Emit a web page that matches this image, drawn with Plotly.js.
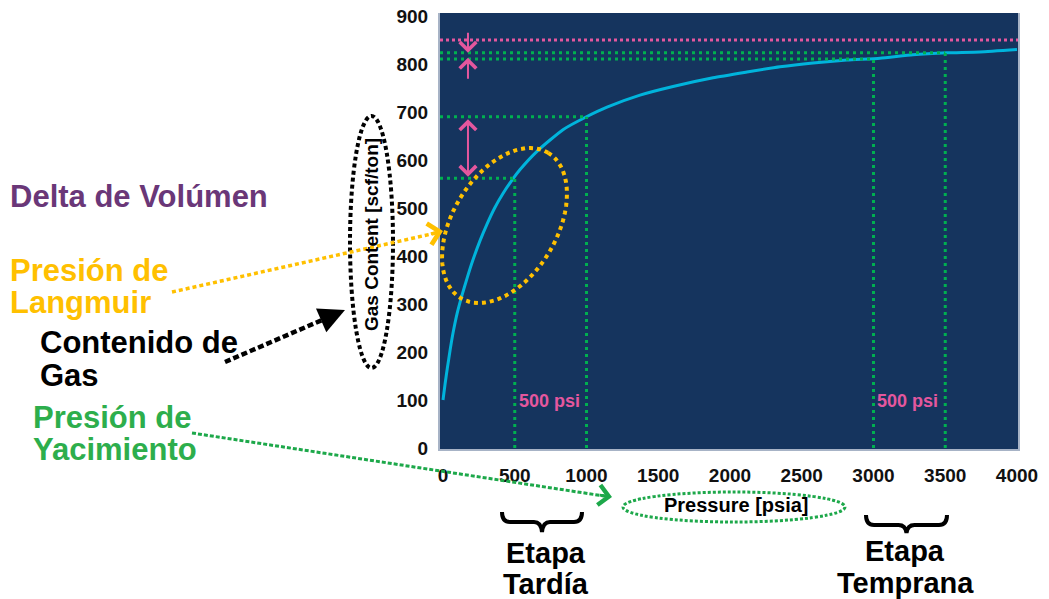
<!DOCTYPE html>
<html>
<head>
<meta charset="utf-8">
<script src="https://cdn.plot.ly/plotly-3.0.1.min.js"></script>
<style>
  html, body { margin: 0; padding: 0; background: #ffffff; }
  #chart { width: 1049px; height: 599px; }
</style>
</head>
<body>
<div id="chart"></div>
<script>
// Langmuir isotherm: gas content vs. pressure
const pressure   = [0, 15, 30, 50, 70, 98, 132, 170, 209, 258, 306, 360, 418, 481, 537, 655, 836, 1000, 1143, 1373, 1603, 1882, 2118, 2348, 2578, 2815, 3045, 3275, 3512, 3742, 4000];
const gasContent = [100, 135, 166, 205, 240, 280, 318, 356, 392, 432, 466, 500, 530, 558, 580, 618, 663, 690, 710, 735, 753, 771, 783, 794, 802, 808, 812, 819, 823, 825, 830];

// Production stages: pressures and the gas content read on the curve
const stagePressures = [500, 1000, 3000, 3500];
const stageContents  = [562, 690, 810, 823];
const langmuirVolume = 850;

// Pressure drop labels
const dropLabels = ['500 psi', '500 psi'];
const dropLabelX = [740, 3235];
const dropLabelY = 98;

const xTicks = [0, 500, 1000, 1500, 2000, 2500, 3000, 3500, 4000];
const yTicks = [0, 100, 200, 300, 400, 500, 600, 700, 800, 900];

// Layout geometry (pixels) for the plot area
const W = 1049, H = 599;
const M = { l: 440, r: 31, t: 13, b: 150 };
const plotW = W - M.l - M.r, plotH = H - M.t - M.b;
const X_RANGE = [-21, 4007];
const px = x => (x - M.l) / plotW;          // page px -> paper x
const py = y => (H - M.b - y) / plotH;       // page px -> paper y
const dataToPaperX = v => (v - X_RANGE[0]) / (X_RANGE[1] - X_RANGE[0]);

const GREEN_LINE = '#00B050';
const PINK = '#E4579E';
const YELLOW = '#FFC000';
const CYAN = '#00B4DC';
const NAVY = '#15345E';

const FONT = 'Liberation Sans, Arial, Helvetica, sans-serif';

const shapes = [];

// Langmuir volume level
shapes.push({ type: 'line', xref: 'paper', yref: 'y', x0: 0, x1: 1, y0: langmuirVolume, y1: langmuirVolume,
  line: { color: PINK, width: 3, dash: '3px,3px' } });

// Stage guide lines
stagePressures.forEach((p, i) => {
  const v = stageContents[i];
  shapes.push({ type: 'line', xref: 'paper', yref: 'y', x0: 0, x1: dataToPaperX(p), y0: v, y1: v,
    line: { color: GREEN_LINE, width: 3, dash: '3px,4px' } });
  shapes.push({ type: 'line', xref: 'x', yref: 'y', x0: p, x1: p, y0: 0, y1: v,
    line: { color: GREEN_LINE, width: 3, dash: '3px,4px' } });
});

// Tilted dotted ellipse (page px geometry)
function ellipsePath(cx, cy, a, b, deg) {
  const phi = deg * Math.PI / 180;
  const n = 72;
  let d = '';
  for (let k = 0; k <= n; k++) {
    const t = 2 * Math.PI * k / n;
    const x = cx + a * Math.cos(t) * Math.cos(phi) - b * Math.sin(t) * Math.sin(phi);
    const y = cy - (a * Math.cos(t) * Math.sin(phi) + b * Math.sin(t) * Math.cos(phi));
    d += (k === 0 ? 'M' : 'L') + px(x).toFixed(5) + ',' + py(y).toFixed(5);
  }
  return d + 'Z';
}
shapes.push({ type: 'path', xref: 'paper', yref: 'paper', path: ellipsePath(504.5, 225.5, 84.8, 52.1, 59),
  line: { color: YELLOW, width: 4, dash: '4px,4px' } });

// Ellipse around the y-axis title
shapes.push({ type: 'circle', xref: 'paper', yref: 'paper', x0: px(350), x1: px(393), y0: py(368), y1: py(116),
  line: { color: '#000000', width: 4, dash: '4px,3px' } });

// Ellipse around the x-axis title
shapes.push({ type: 'circle', xref: 'paper', yref: 'paper', x0: px(623), x1: px(845), y0: py(522), y1: py(492),
  line: { color: '#1DA84A', width: 3, dash: '3px,2px' } });

// Dotted pointer lines
function pline(x0, y0, x1, y1, color, width, dash) {
  shapes.push({ type: 'line', xref: 'paper', yref: 'paper', x0: px(x0), y0: py(y0), x1: px(x1), y1: py(y1),
    line: { color, width, dash } });
}
pline(172, 292, 436, 233, YELLOW, 3.5, '4px,3px');
pline(225, 362, 336, 314, '#000000', 4.5, '6px,3px');
pline(192, 433, 604, 496, '#1DA84A', 3, '4px,2px');

// Curly braces under the stage pressure ranges
function brace(x0, x1, yTop, yMid, yTip) {
  const xm = (x0 + x1) / 2;
  const pts = [
    ['M', x0, yTop], ['Q', x0, yMid, x0 + 8, yMid], ['L', xm - 8, yMid],
    ['Q', xm - 1, yMid, xm, yTip], ['Q', xm + 1, yMid, xm + 8, yMid],
    ['L', x1 - 8, yMid], ['Q', x1, yMid, x1, yTop]
  ];
  return pts.map(s => {
    const c = s[0];
    const nums = s.slice(1);
    const out = [];
    for (let i = 0; i < nums.length; i += 2) out.push(px(nums[i]).toFixed(5) + ',' + py(nums[i + 1]).toFixed(5));
    return c + out.join(' ');
  }).join(' ');
}
shapes.push({ type: 'path', xref: 'paper', yref: 'paper', path: brace(502, 582, 512, 522, 532),
  line: { color: '#000000', width: 4 } });
shapes.push({ type: 'path', xref: 'paper', yref: 'paper', path: brace(866, 947, 515, 525, 533),
  line: { color: '#000000', width: 4 } });

const annotations = [];

// Arrowheads for the pointer lines
function head(xTip, yTip, ux, uy, color, style, width, size) {
  annotations.push({ xref: 'paper', yref: 'paper', x: px(xTip), y: py(yTip), text: '',
    showarrow: true, ax: -ux * 14, ay: -uy * 14, arrowhead: style, arrowcolor: color,
    arrowwidth: width, arrowsize: size, standoff: 0 });
}
head(443, 231, 0.976, -0.218, YELLOW, 4, 3, 1.4);
head(345, 310, 0.917, -0.397, '#000000', 2, 4, 1.3);
head(612, 497, 0.989, 0.151, '#1DA84A', 4, 3, 1.3);

// Volume difference arrows (pink)
const arrowP = 174;
annotations.push({ xref: 'x', yref: 'y', axref: 'x', ayref: 'y', x: arrowP, y: stageContents[3], ax: arrowP, ay: 868,
  text: '', showarrow: true, arrowhead: 4, arrowsize: 1.6, arrowwidth: 2, arrowcolor: PINK, standoff: 0 });
annotations.push({ xref: 'x', yref: 'y', axref: 'x', ayref: 'y', x: arrowP, y: stageContents[2] + 3, ax: arrowP, ay: 766,
  text: '', showarrow: true, arrowhead: 4, arrowsize: 1.6, arrowwidth: 2, arrowcolor: PINK, standoff: 0 });
annotations.push({ xref: 'x', yref: 'y', axref: 'x', ayref: 'y', x: arrowP, y: stageContents[0] + 3, ax: arrowP, ay: stageContents[1] - 2,
  text: '', showarrow: true, arrowhead: 4, arrowside: 'end+start', arrowsize: 1.6, arrowwidth: 2, arrowcolor: PINK, standoff: 0 });

// Pressure drop labels
dropLabels.forEach((t, i) => {
  annotations.push({ xref: 'x', yref: 'y', x: dropLabelX[i], y: dropLabelY, text: '<b>' + t + '</b>', showarrow: false,
    font: { family: FONT, size: 18, color: PINK }, xanchor: 'center', yanchor: 'middle' });
});

// Side texts
function label(text, x, y, size, color, anchor) {
  annotations.push({ xref: 'paper', yref: 'paper', x: px(x), y: py(y), text: '<b>' + text + '</b>', showarrow: false,
    font: { family: FONT, size, color }, xanchor: anchor || 'left', yanchor: 'middle' });
}
label('Delta de Volúmen', 8, 196, 31, '#6A3778');
label('Presión de', 8, 270, 31, YELLOW);
label('Langmuir', 8, 302, 31, YELLOW);
label('Contenido de', 38, 342, 31, '#000000');
label('Gas', 38, 375, 31, '#000000');
label('Presión de', 31, 417, 31, '#2DAE4C');
label('Yacimiento', 31, 449, 31, '#2DAE4C');
label('Etapa', 546, 553, 29, '#000000', 'center');
label('Tardía', 546, 584, 29, '#000000', 'center');
label('Etapa', 905, 551, 29, '#000000', 'center');
label('Temprana', 905, 583, 29, '#000000', 'center');

// Axis titles
annotations.push({ xref: 'paper', yref: 'paper', x: px(372), y: py(235), text: '<b>Gas Content [scf/ton]</b>',
  textangle: -90, showarrow: false, font: { family: FONT, size: 19, color: '#000000' }, xanchor: 'center', yanchor: 'middle' });
annotations.push({ xref: 'paper', yref: 'paper', x: px(736), y: py(505), text: '<b>Pressure [psia]</b>',
  showarrow: false, font: { family: FONT, size: 20, color: '#000000' }, xanchor: 'center', yanchor: 'middle' });

const trace = {
  x: pressure, y: gasContent, type: 'scatter', mode: 'lines',
  line: { color: CYAN, width: 3, shape: 'spline', smoothing: 0.5 },
  hoverinfo: 'x+y'
};

const layout = {
  width: W, height: H, autosize: false,
  margin: { l: M.l, r: M.r, t: M.t, b: M.b, pad: 0 },
  paper_bgcolor: '#ffffff', plot_bgcolor: NAVY,
  showlegend: false,
  xaxis: {
    range: X_RANGE, tickvals: xTicks, ticktext: xTicks.map(String),
    showgrid: false, zeroline: false, showline: true, linecolor: '#A7B3C6', linewidth: 2, mirror: false,
    ticks: '', ticklabelstandoff: 8,
    tickfont: { family: FONT, size: 19, color: '#111111', weight: 'bold' }
  },
  yaxis: {
    range: [-2, 906], tickvals: yTicks, ticktext: yTicks.map(String),
    showgrid: false, zeroline: false, showline: true, linecolor: '#A7B3C6', linewidth: 2, mirror: true,
    ticks: '', ticklabelstandoff: 6,
    tickfont: { family: FONT, size: 19, color: '#111111', weight: 'bold' }
  },
  shapes, annotations
};

Plotly.newPlot('chart', [trace], layout, { displayModeBar: false, staticPlot: true });
</script>
</body>
</html>
